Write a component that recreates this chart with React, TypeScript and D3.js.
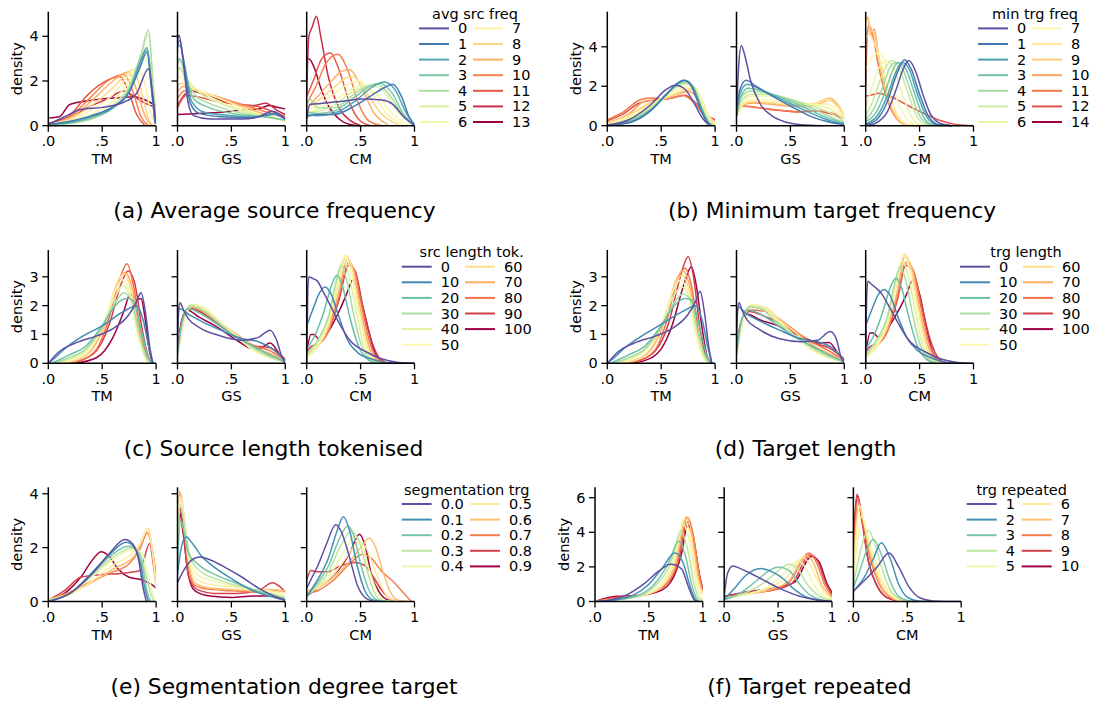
import React from 'react';
import * as d3 from 'd3';

// shared axis stuff
const metricNames = ['TM', 'GS', 'CM'];
const xTicks = [0, 0.5, 1];
const xTickLabels = ['.0', '.5', '1'];

// (a) average source frequency
const aLevels = [0, 1, 2, 3, 4, 5, 6, 7, 8, 9, 10, 11, 12, 13];
const aTM = [
  [0, 0.05, 0.15, 0.4, 0.3, 0.72, 0.5, 0.82, 0.7, 1.05, 0.82, 1.45, 0.93, 2.55, 0.97, 1.3, 1, 0.1],
  [0, 0.05, 0.2, 0.2, 0.4, 0.45, 0.6, 0.85, 0.75, 1.5, 0.85, 2.6, 0.915, 3.3, 0.96, 1.5, 0.99, 0.1],
  [0, 0.05, 0.2, 0.15, 0.4, 0.4, 0.6, 0.8, 0.75, 1.5, 0.85, 2.8, 0.915, 3.5, 0.96, 1.6, 0.99, 0.1],
  [0, 0.03, 0.2, 0.12, 0.4, 0.35, 0.6, 0.8, 0.75, 1.6, 0.85, 2.9, 0.92, 3.4, 0.965, 1.5, 0.99, 0.1],
  [0, 0.03, 0.2, 0.1, 0.4, 0.3, 0.6, 0.8, 0.75, 1.7, 0.86, 3.2, 0.93, 4.3, 0.97, 2.0, 1, 0.2],
  [0, 0.03, 0.2, 0.12, 0.4, 0.35, 0.6, 0.9, 0.75, 1.8, 0.86, 3.1, 0.93, 4.1, 0.97, 2.0, 1, 0.2],
  [0, 0.05, 0.2, 0.2, 0.4, 0.5, 0.6, 1.1, 0.75, 2.0, 0.85, 2.8, 0.91, 3.0, 0.96, 1.5, 1, 0.2],
  [0, 0.05, 0.2, 0.25, 0.4, 0.7, 0.6, 1.4, 0.72, 2.1, 0.82, 2.6, 0.89, 2.0, 0.95, 0.6, 1, 0.05],
  [0, 0.05, 0.2, 0.3, 0.4, 0.9, 0.6, 1.7, 0.7, 2.2, 0.78, 2.5, 0.86, 1.6, 0.93, 0.3, 0.98, 0],
  [0, 0.05, 0.2, 0.35, 0.4, 1.1, 0.6, 2.0, 0.74, 2.4, 0.82, 1.6, 0.9, 0.4, 0.96, 0],
  [0, 0.05, 0.2, 0.4, 0.4, 1.3, 0.55, 2.0, 0.7, 2.3, 0.78, 1.6, 0.86, 0.4, 0.93, 0],
  [0, 0.05, 0.2, 0.45, 0.35, 1.3, 0.5, 1.9, 0.66, 2.2, 0.74, 1.6, 0.82, 0.5, 0.9, 0],
  [0, 0.1, 0.2, 0.4, 0.4, 0.9, 0.55, 1.2, 0.7, 1.55, 0.8, 1.3, 0.9, 1.0, 0.98, 0.85],
  [0, 0.35, 0.1, 0.4, 0.2, 0.95, 0.35, 1.1, 0.5, 1.2, 0.65, 1.25, 0.8, 1.3, 0.9, 1.15, 1, 0.9],
];
const aGS = [
  [0, 3.8, 0.015, 4.05, 0.05, 3.0, 0.1, 1.0, 0.15, 0.45, 0.3, 0.3, 0.6, 0.3, 0.75, 0.4, 0.88, 0.65, 0.95, 0.5, 1, 0.3],
  [0, 3.6, 0.02, 3.8, 0.06, 2.8, 0.12, 1.0, 0.2, 0.55, 0.4, 0.4, 0.7, 0.35, 0.88, 0.55, 1, 0.3],
  [0, 3.5, 0.02, 3.6, 0.07, 2.6, 0.13, 1.1, 0.25, 0.6, 0.5, 0.45, 0.75, 0.4, 0.9, 0.5, 1, 0.3],
  [0, 2.8, 0.02, 3.0, 0.08, 2.2, 0.15, 1.2, 0.3, 0.8, 0.5, 0.55, 0.8, 0.4, 1, 0.25],
  [0, 2.5, 0.02, 2.6, 0.08, 2.0, 0.18, 1.3, 0.35, 0.9, 0.55, 0.6, 0.8, 0.4, 1, 0.25],
  [0, 2.8, 0.02, 2.9, 0.08, 2.2, 0.2, 1.5, 0.4, 1.0, 0.6, 0.65, 0.8, 0.45, 1, 0.25],
  [0, 2.4, 0.03, 2.5, 0.1, 1.9, 0.22, 1.5, 0.4, 1.05, 0.6, 0.7, 0.8, 0.45, 1, 0.25],
  [0, 2.1, 0.03, 2.2, 0.1, 1.8, 0.25, 1.5, 0.45, 1.1, 0.65, 0.7, 0.85, 0.4, 1, 0.2],
  [0, 1.8, 0.04, 1.9, 0.12, 1.7, 0.25, 1.5, 0.45, 1.1, 0.65, 0.7, 0.85, 0.4, 1, 0.2],
  [0, 1.5, 0.05, 1.75, 0.12, 1.65, 0.3, 1.4, 0.5, 1.05, 0.7, 0.7, 0.9, 0.35, 1, 0.2],
  [0, 1.2, 0.06, 1.55, 0.15, 1.6, 0.3, 1.4, 0.5, 1.1, 0.7, 0.8, 0.9, 0.5, 1, 0.35],
  [0, 0.8, 0.08, 1.35, 0.18, 1.3, 0.35, 1.1, 0.55, 0.95, 0.75, 0.85, 0.9, 0.6, 1, 0.4],
  [0, 0.9, 0.05, 1.3, 0.12, 1.55, 0.3, 1.3, 0.5, 1.0, 0.7, 0.9, 0.82, 1.0, 0.92, 0.7, 1, 0.5],
  [0, 0.5, 0.2, 0.55, 0.4, 0.6, 0.6, 0.7, 0.75, 0.75, 0.85, 0.9, 0.95, 0.8, 1, 0.75],
];
const aCM = [
  [0, 0.3, 0.03, 0.95, 0.15, 1.0, 0.35, 1.1, 0.5, 1.2, 0.7, 1.15, 0.8, 0.95, 0.9, 0.4, 1, 0],
  [0, 0.4, 0.1, 0.5, 0.25, 0.5, 0.45, 0.9, 0.6, 1.35, 0.72, 1.7, 0.8, 1.85, 0.88, 1.3, 0.95, 0.4, 1, 0.05],
  [0, 0.5, 0.1, 0.45, 0.25, 0.55, 0.45, 1.1, 0.6, 1.7, 0.72, 1.95, 0.82, 1.6, 0.92, 0.6, 1, 0.05],
  [0, 0.6, 0.1, 0.55, 0.25, 0.65, 0.45, 1.3, 0.58, 1.75, 0.68, 1.9, 0.8, 1.4, 0.9, 0.5, 1, 0.05],
  [0, 0.8, 0.03, 1.2, 0.1, 0.8, 0.25, 0.8, 0.45, 1.45, 0.58, 1.8, 0.65, 1.85, 0.78, 1.3, 0.9, 0.4, 1, 0.05],
  [0, 0.6, 0.1, 0.65, 0.25, 0.9, 0.42, 1.5, 0.6, 1.8, 0.72, 1.5, 0.85, 0.6, 1, 0.05],
  [0, 0.6, 0.1, 0.75, 0.25, 1.1, 0.4, 1.6, 0.52, 1.8, 0.65, 1.4, 0.8, 0.5, 0.95, 0.05],
  [0, 0.7, 0.1, 0.9, 0.25, 1.4, 0.38, 1.85, 0.48, 2.0, 0.6, 1.5, 0.75, 0.5, 0.9, 0.05],
  [0, 0.8, 0.1, 1.1, 0.25, 1.7, 0.35, 2.1, 0.43, 2.2, 0.55, 1.5, 0.7, 0.5, 0.85, 0.05],
  [0, 0.8, 0.1, 1.3, 0.25, 2.1, 0.33, 2.45, 0.4, 2.5, 0.5, 1.8, 0.62, 0.6, 0.75, 0.05],
  [0, 1.0, 0.08, 1.7, 0.18, 2.8, 0.29, 3.2, 0.38, 2.5, 0.48, 1.0, 0.58, 0.2, 0.7, 0],
  [0, 1.3, 0.06, 2.0, 0.14, 3.0, 0.22, 3.25, 0.3, 2.5, 0.4, 1.0, 0.5, 0.2, 0.6, 0],
  [0, 1.5, 0.02, 4.0, 0.05, 4.4, 0.09, 4.9, 0.13, 4.0, 0.2, 2.2, 0.3, 0.8, 0.4, 0.25, 0.5, 0],
  [0, 2.9, 0.02, 3.0, 0.07, 2.6, 0.13, 1.7, 0.2, 0.9, 0.3, 0.3, 0.4, 0.05, 0.5, 0],
];

// (b) minimum target frequency
const bLevels = [0, 1, 2, 3, 4, 5, 6, 7, 8, 9, 10, 11, 12, 14];
const bTM = [
  [0, 0.02, 0.2, 0.3, 0.4, 1.05, 0.55, 1.85, 0.63, 2.05, 0.72, 1.85, 0.8, 1.2, 0.88, 0.4, 0.95, 0],
  [0, 0.02, 0.2, 0.15, 0.4, 0.75, 0.55, 1.6, 0.65, 2.15, 0.71, 2.3, 0.78, 2.0, 0.86, 0.9, 0.92, 0.2, 0.96, 0],
  [0, 0.02, 0.2, 0.15, 0.4, 0.75, 0.55, 1.6, 0.65, 2.15, 0.72, 2.3, 0.79, 2.0, 0.87, 0.9, 0.93, 0.2, 0.97, 0],
  [0, 0.03, 0.2, 0.2, 0.4, 0.8, 0.55, 1.6, 0.65, 2.1, 0.72, 2.28, 0.8, 1.9, 0.88, 0.8, 0.94, 0.15, 0.98, 0],
  [0, 0.04, 0.2, 0.25, 0.4, 0.85, 0.55, 1.6, 0.65, 2.05, 0.73, 2.2, 0.8, 1.9, 0.88, 0.8, 0.95, 0.1, 1, 0],
  [0, 0.05, 0.2, 0.3, 0.4, 0.9, 0.55, 1.6, 0.65, 2.0, 0.74, 2.15, 0.81, 1.9, 0.89, 0.8, 0.96, 0.1, 1, 0],
  [0, 0.05, 0.2, 0.35, 0.4, 0.95, 0.55, 1.6, 0.66, 1.95, 0.75, 2.1, 0.82, 1.9, 0.9, 0.8, 0.97, 0.1, 1, 0],
  [0, 0.08, 0.2, 0.4, 0.4, 1.0, 0.55, 1.5, 0.67, 1.85, 0.76, 2.0, 0.83, 1.85, 0.9, 0.9, 0.97, 0.15, 1, 0],
  [0, 0.1, 0.2, 0.5, 0.4, 1.1, 0.55, 1.45, 0.68, 1.75, 0.78, 1.9, 0.85, 1.6, 0.92, 0.7, 1, 0.1],
  [0, 0.1, 0.2, 0.55, 0.4, 1.15, 0.55, 1.4, 0.68, 1.7, 0.78, 1.85, 0.86, 1.5, 0.93, 0.6, 1, 0.1],
  [0, 0.15, 0.2, 0.6, 0.35, 1.25, 0.5, 1.35, 0.65, 1.6, 0.75, 1.75, 0.85, 1.3, 0.93, 0.5, 1, 0.15],
  [0, 0.3, 0.15, 0.7, 0.3, 1.3, 0.4, 1.4, 0.55, 1.35, 0.7, 1.55, 0.8, 1.2, 0.9, 0.5, 1, 0.15],
  [0, 0.25, 0.15, 0.6, 0.3, 1.15, 0.45, 1.3, 0.6, 1.4, 0.72, 1.55, 0.82, 1.15, 0.92, 0.55, 1, 0.3],
  [],
];
const bGS = [
  [0, 0.5, 0.02, 3.0, 0.045, 4.05, 0.08, 3.5, 0.13, 2.3, 0.22, 1.1, 0.33, 0.5, 0.45, 0.2, 0.6, 0.05, 0.8, 0],
  [0, 0.5, 0.03, 1.8, 0.09, 2.3, 0.18, 2.0, 0.3, 1.6, 0.5, 1.0, 0.7, 0.45, 0.85, 0.2, 1, 0.05],
  [0, 0.5, 0.03, 1.6, 0.1, 2.1, 0.2, 1.9, 0.35, 1.5, 0.55, 1.0, 0.75, 0.5, 0.9, 0.2, 1, 0.1],
  [0, 0.5, 0.04, 1.5, 0.11, 1.9, 0.22, 1.8, 0.4, 1.45, 0.6, 1.0, 0.8, 0.5, 0.92, 0.25, 1, 0.1],
  [0, 0.5, 0.04, 1.4, 0.12, 1.75, 0.25, 1.7, 0.45, 1.4, 0.65, 1.0, 0.85, 0.5, 1, 0.15],
  [0, 0.5, 0.05, 1.3, 0.13, 1.6, 0.28, 1.6, 0.5, 1.35, 0.7, 1.0, 0.85, 0.7, 1, 0.2],
  [0, 0.5, 0.05, 1.25, 0.14, 1.5, 0.3, 1.5, 0.5, 1.3, 0.7, 1.05, 0.85, 0.9, 1, 0.3],
  [0, 0.5, 0.05, 1.15, 0.15, 1.35, 0.3, 1.3, 0.5, 1.15, 0.7, 1.05, 0.85, 1.1, 0.95, 0.7, 1, 0.4],
  [0, 0.5, 0.06, 1.1, 0.15, 1.25, 0.3, 1.2, 0.5, 1.1, 0.7, 1.1, 0.85, 1.3, 0.93, 1.0, 1, 0.5],
  [0, 0.5, 0.06, 1.05, 0.15, 1.2, 0.3, 1.15, 0.5, 1.05, 0.7, 1.1, 0.87, 1.4, 0.95, 1.0, 1, 0.5],
  [0, 0.6, 0.06, 1.05, 0.15, 1.15, 0.3, 1.1, 0.5, 1.0, 0.7, 1.0, 0.87, 1.3, 0.95, 0.9, 1, 0.5],
  [0, 0.8, 0.05, 1.0, 0.15, 0.95, 0.35, 0.8, 0.55, 0.72, 0.75, 0.75, 0.88, 0.65, 1, 0.4],
  [0, 0.75, 0.05, 1.0, 0.15, 0.95, 0.3, 0.85, 0.55, 0.7, 0.75, 0.75, 0.9, 0.55, 1, 0.35],
  [],
];
const bCM = [
  [0, 0, 0.1, 0.15, 0.2, 0.7, 0.28, 1.8, 0.35, 2.9, 0.4, 3.3, 0.46, 2.8, 0.53, 1.6, 0.6, 0.6, 0.7, 0.1, 0.8, 0],
  [0, 0.05, 0.1, 0.3, 0.2, 1.2, 0.28, 2.5, 0.36, 3.35, 0.42, 2.9, 0.5, 1.6, 0.58, 0.5, 0.68, 0.05, 0.8, 0],
  [0, 0.1, 0.1, 0.45, 0.2, 1.5, 0.27, 2.6, 0.34, 3.2, 0.4, 2.9, 0.48, 1.6, 0.56, 0.5, 0.66, 0.05, 0.8, 0],
  [0, 0.2, 0.1, 0.7, 0.18, 1.7, 0.25, 2.8, 0.3, 3.2, 0.37, 2.9, 0.45, 1.7, 0.53, 0.5, 0.62, 0.05, 0.75, 0],
  [0, 0.3, 0.08, 0.9, 0.16, 2.0, 0.22, 2.9, 0.28, 3.2, 0.34, 2.9, 0.42, 1.7, 0.5, 0.5, 0.6, 0.05, 0.7, 0],
  [0, 0.5, 0.07, 1.3, 0.14, 2.4, 0.2, 3.1, 0.25, 3.3, 0.31, 2.9, 0.39, 1.7, 0.47, 0.5, 0.57, 0.05, 0.7, 0],
  [0, 0.9, 0.05, 1.8, 0.12, 2.9, 0.2, 3.3, 0.26, 2.9, 0.34, 1.6, 0.42, 0.5, 0.52, 0.05, 0.65, 0],
  [0, 2.9, 0.05, 3.4, 0.12, 3.7, 0.18, 3.2, 0.25, 2.0, 0.33, 0.8, 0.42, 0.15, 0.55, 0],
  [0, 4.4, 0.03, 4.6, 0.08, 4.2, 0.15, 3.0, 0.22, 1.6, 0.3, 0.5, 0.4, 0.05, 0.5, 0],
  [0, 5.2, 0.015, 5.45, 0.05, 4.8, 0.08, 4.7, 0.13, 3.2, 0.2, 1.5, 0.28, 0.5, 0.38, 0.05, 0.5, 0],
  [0, 5.4, 0.02, 5.5, 0.05, 4.6, 0.08, 4.9, 0.12, 3.5, 0.19, 1.6, 0.27, 0.5, 0.37, 0.05, 0.5, 0],
  [0, 2.0, 0.015, 4.6, 0.03, 5.1, 0.07, 4.5, 0.12, 3.0, 0.2, 1.3, 0.28, 0.4, 0.38, 0.05, 0.5, 0],
  [0, 1.5, 0.05, 1.55, 0.12, 1.65, 0.2, 1.55, 0.3, 1.3, 0.4, 1.0, 0.55, 0.6, 0.7, 0.25, 0.85, 0.05, 1, 0],
  [],
];

// (c) source length tokenised
const cLevels = [0, 10, 20, 30, 40, 50, 60, 70, 80, 90, 100];
const cTM = [
  [0, 0, 0.1, 0.4, 0.25, 0.7, 0.45, 0.95, 0.6, 1.2, 0.75, 1.7, 0.82, 2.15, 0.86, 2.45, 0.9, 1.8, 0.94, 0.6, 0.97, 0],
  [0, 0, 0.05, 0.15, 0.15, 0.5, 0.3, 0.9, 0.5, 1.3, 0.7, 1.8, 0.82, 2.0, 0.88, 1.5, 0.93, 0.6, 0.97, 0],
  [0.03, 0, 0.2, 0.3, 0.35, 0.6, 0.5, 1.3, 0.62, 2.0, 0.72, 2.25, 0.78, 2.2, 0.86, 1.2, 0.92, 0.3, 0.96, 0],
  [0.05, 0, 0.2, 0.2, 0.35, 0.5, 0.5, 1.25, 0.62, 2.1, 0.7, 2.45, 0.77, 2.2, 0.84, 1.1, 0.9, 0.3, 0.95, 0],
  [0.05, 0, 0.2, 0.15, 0.35, 0.45, 0.5, 1.25, 0.62, 2.3, 0.69, 2.7, 0.76, 2.3, 0.83, 1.1, 0.9, 0.2, 0.95, 0],
  [0.05, 0, 0.2, 0.1, 0.35, 0.4, 0.5, 1.25, 0.62, 2.5, 0.69, 2.9, 0.76, 2.4, 0.83, 1.0, 0.9, 0.2, 0.94, 0],
  [0.08, 0, 0.25, 0.1, 0.4, 0.5, 0.52, 1.4, 0.63, 2.7, 0.7, 3.1, 0.77, 2.5, 0.84, 1.0, 0.9, 0.2, 0.94, 0],
  [0.1, 0, 0.25, 0.1, 0.4, 0.45, 0.53, 1.4, 0.64, 2.8, 0.71, 3.15, 0.78, 2.6, 0.85, 1.0, 0.91, 0.2, 0.95, 0],
  [0.12, 0, 0.3, 0.1, 0.45, 0.5, 0.55, 1.4, 0.66, 2.9, 0.73, 3.45, 0.79, 2.7, 0.86, 1.0, 0.92, 0.2, 0.96, 0],
  [0.15, 0, 0.3, 0.1, 0.45, 0.45, 0.57, 1.4, 0.67, 2.7, 0.74, 3.2, 0.8, 2.8, 0.87, 1.2, 0.93, 0.2, 0.97, 0],
  [0.25, 0, 0.45, 0.2, 0.6, 0.9, 0.7, 1.8, 0.76, 2.4, 0.82, 2.2, 0.86, 2.25, 0.9, 1.5, 0.94, 0.4, 0.97, 0],
];
const cGS = [
  [0, 0.5, 0.01, 1.8, 0.025, 2.1, 0.05, 1.9, 0.1, 1.55, 0.2, 1.25, 0.4, 0.95, 0.6, 0.8, 0.75, 0.9, 0.86, 1.15, 0.92, 0.8, 0.97, 0.2, 1, 0],
  [0, 1.6, 0.02, 1.9, 0.08, 1.75, 0.2, 1.5, 0.4, 1.15, 0.6, 0.85, 0.75, 0.75, 0.88, 0.5, 1, 0.1],
  [0, 0.3, 0.04, 1.4, 0.1, 1.9, 0.2, 1.75, 0.35, 1.4, 0.5, 1.0, 0.7, 0.6, 0.85, 0.3, 1, 0.05],
  [0, 0.3, 0.05, 1.5, 0.12, 2.0, 0.2, 1.9, 0.35, 1.5, 0.5, 1.05, 0.7, 0.55, 0.85, 0.25, 1, 0.05],
  [0, 0.3, 0.05, 1.5, 0.13, 2.05, 0.22, 1.95, 0.37, 1.5, 0.52, 1.0, 0.7, 0.5, 0.85, 0.2, 1, 0.05],
  [0, 0.3, 0.06, 1.5, 0.14, 2.05, 0.24, 1.95, 0.38, 1.5, 0.53, 1.0, 0.7, 0.45, 0.85, 0.2, 1, 0.05],
  [0, 0.3, 0.06, 1.45, 0.14, 2.0, 0.24, 1.9, 0.38, 1.45, 0.54, 1.0, 0.7, 0.5, 0.85, 0.25, 1, 0.05],
  [0, 0.3, 0.06, 1.5, 0.13, 1.95, 0.25, 1.8, 0.4, 1.4, 0.55, 1.0, 0.72, 0.55, 0.85, 0.35, 1, 0.1],
  [0, 0.4, 0.06, 1.55, 0.12, 1.95, 0.25, 1.75, 0.4, 1.35, 0.55, 0.95, 0.72, 0.6, 0.85, 0.45, 1, 0.1],
  [0, 0.4, 0.05, 1.55, 0.12, 1.9, 0.25, 1.7, 0.4, 1.3, 0.55, 0.9, 0.72, 0.6, 0.85, 0.55, 0.95, 0.3, 1, 0.15],
  [0, 0.5, 0.04, 1.5, 0.09, 1.85, 0.2, 1.6, 0.35, 1.3, 0.55, 0.8, 0.7, 0.5, 0.78, 0.55, 0.86, 0.7, 0.94, 0.35, 1, 0.1],
];
const cCM = [
  [0, 0, 0.01, 2.5, 0.02, 3.0, 0.05, 2.95, 0.1, 2.85, 0.15, 2.5, 0.22, 2.0, 0.3, 1.4, 0.4, 0.8, 0.55, 0.4, 0.7, 0.15, 0.85, 0.03, 1, 0],
  [0, 1.3, 0.05, 1.8, 0.12, 2.45, 0.17, 2.65, 0.22, 2.45, 0.3, 1.6, 0.38, 0.8, 0.48, 0.35, 0.6, 0.15, 0.75, 0.02, 1, 0],
  [0, 0.5, 0.08, 1.0, 0.16, 1.8, 0.23, 2.7, 0.28, 3.05, 0.33, 2.7, 0.4, 1.6, 0.48, 0.6, 0.56, 0.15, 0.65, 0],
  [0, 0.3, 0.1, 0.8, 0.2, 1.6, 0.27, 2.8, 0.32, 3.4, 0.37, 2.9, 0.43, 1.8, 0.5, 0.7, 0.58, 0.15, 0.68, 0],
  [0, 0.25, 0.1, 0.7, 0.2, 1.5, 0.28, 2.8, 0.34, 3.6, 0.39, 3.1, 0.46, 1.8, 0.53, 0.6, 0.6, 0.15, 0.7, 0],
  [0, 0.2, 0.1, 0.6, 0.2, 1.4, 0.29, 2.8, 0.355, 3.75, 0.41, 3.2, 0.48, 1.8, 0.55, 0.6, 0.62, 0.1, 0.7, 0],
  [0, 0.2, 0.1, 0.55, 0.2, 1.3, 0.3, 2.8, 0.365, 3.75, 0.42, 3.3, 0.49, 1.8, 0.56, 0.6, 0.63, 0.1, 0.72, 0],
  [0, 0.25, 0.1, 0.6, 0.2, 1.2, 0.3, 2.5, 0.375, 3.6, 0.43, 3.3, 0.5, 1.9, 0.57, 0.7, 0.64, 0.15, 0.72, 0],
  [0, 0.3, 0.1, 0.6, 0.2, 1.1, 0.3, 2.3, 0.385, 3.5, 0.44, 3.25, 0.51, 2.0, 0.58, 0.8, 0.65, 0.2, 0.74, 0],
  [0, 0.4, 0.05, 0.6, 0.1, 0.65, 0.2, 1.1, 0.3, 2.2, 0.39, 3.4, 0.45, 3.2, 0.52, 2.0, 0.6, 0.8, 0.67, 0.2, 0.75, 0],
  [0, 0.4, 0.04, 1.0, 0.07, 1.0, 0.12, 0.8, 0.2, 1.1, 0.3, 1.8, 0.37, 2.4, 0.43, 2.9, 0.48, 2.5, 0.55, 1.5, 0.62, 0.5, 0.7, 0.05, 0.78, 0],
];

// (d) target length
const dLevels = [0, 10, 20, 30, 40, 50, 60, 70, 80, 90, 100];
const dTM = [
  [0, 0, 0.1, 0.4, 0.25, 0.7, 0.45, 0.95, 0.6, 1.2, 0.75, 1.7, 0.82, 2.15, 0.86, 2.5, 0.9, 1.8, 0.94, 0.6, 0.97, 0],
  [0, 0, 0.05, 0.15, 0.15, 0.5, 0.3, 0.9, 0.5, 1.35, 0.7, 1.8, 0.82, 2.0, 0.88, 1.5, 0.93, 0.6, 0.97, 0],
  [0.03, 0, 0.2, 0.3, 0.35, 0.6, 0.5, 1.3, 0.62, 2.0, 0.72, 2.25, 0.78, 2.2, 0.86, 1.2, 0.92, 0.3, 0.96, 0],
  [0.05, 0, 0.2, 0.2, 0.35, 0.5, 0.5, 1.25, 0.62, 2.1, 0.7, 2.4, 0.77, 2.2, 0.84, 1.1, 0.9, 0.3, 0.95, 0],
  [0.05, 0, 0.2, 0.15, 0.35, 0.45, 0.5, 1.3, 0.61, 2.3, 0.69, 2.65, 0.76, 2.3, 0.83, 1.1, 0.9, 0.2, 0.95, 0],
  [0.05, 0, 0.2, 0.1, 0.35, 0.45, 0.5, 1.35, 0.61, 2.5, 0.68, 2.9, 0.75, 2.4, 0.82, 1.0, 0.89, 0.2, 0.94, 0],
  [0.08, 0, 0.25, 0.1, 0.4, 0.5, 0.52, 1.45, 0.62, 2.65, 0.69, 3.05, 0.76, 2.5, 0.83, 1.0, 0.9, 0.2, 0.94, 0],
  [0.1, 0, 0.25, 0.1, 0.4, 0.45, 0.53, 1.45, 0.63, 2.8, 0.7, 3.2, 0.77, 2.6, 0.84, 1.0, 0.9, 0.2, 0.95, 0],
  [0.12, 0, 0.3, 0.1, 0.45, 0.5, 0.55, 1.45, 0.65, 2.9, 0.72, 3.3, 0.78, 2.7, 0.85, 1.0, 0.91, 0.2, 0.96, 0],
  [0.15, 0, 0.3, 0.1, 0.45, 0.45, 0.57, 1.4, 0.67, 2.9, 0.75, 3.7, 0.8, 3.0, 0.86, 1.2, 0.92, 0.2, 0.96, 0],
  [0.2, 0, 0.35, 0.1, 0.5, 0.5, 0.6, 1.3, 0.7, 2.6, 0.78, 3.35, 0.83, 2.6, 0.88, 1.2, 0.93, 0.2, 0.97, 0],
];
const dGS = [
  [0, 0.5, 0.01, 1.8, 0.025, 2.1, 0.05, 1.85, 0.1, 1.5, 0.2, 1.2, 0.4, 0.85, 0.6, 0.75, 0.75, 0.8, 0.87, 1.1, 0.93, 0.8, 0.97, 0.2, 1, 0],
  [0, 1.6, 0.02, 1.95, 0.08, 1.75, 0.2, 1.5, 0.4, 1.15, 0.6, 0.85, 0.75, 0.75, 0.88, 0.55, 1, 0.1],
  [0, 0.3, 0.04, 1.4, 0.1, 1.85, 0.2, 1.75, 0.35, 1.4, 0.5, 1.0, 0.7, 0.6, 0.85, 0.3, 1, 0.05],
  [0, 0.3, 0.05, 1.5, 0.12, 1.95, 0.22, 1.9, 0.35, 1.5, 0.5, 1.05, 0.7, 0.55, 0.85, 0.25, 1, 0.05],
  [0, 0.3, 0.05, 1.5, 0.13, 2.0, 0.23, 1.95, 0.37, 1.5, 0.52, 1.0, 0.7, 0.5, 0.85, 0.2, 1, 0.05],
  [0, 0.3, 0.06, 1.5, 0.14, 2.05, 0.25, 1.95, 0.38, 1.5, 0.53, 1.0, 0.7, 0.45, 0.85, 0.2, 1, 0.05],
  [0, 0.3, 0.06, 1.45, 0.14, 2.0, 0.26, 1.95, 0.4, 1.5, 0.55, 1.05, 0.7, 0.55, 0.85, 0.25, 1, 0.05],
  [0, 0.3, 0.06, 1.5, 0.13, 1.95, 0.27, 1.85, 0.42, 1.45, 0.56, 1.05, 0.72, 0.6, 0.85, 0.35, 1, 0.1],
  [0, 0.4, 0.06, 1.5, 0.12, 1.85, 0.27, 1.8, 0.43, 1.45, 0.57, 1.05, 0.72, 0.7, 0.85, 0.45, 1, 0.1],
  [0, 0.4, 0.05, 1.45, 0.12, 1.8, 0.25, 1.65, 0.42, 1.35, 0.57, 1.0, 0.72, 0.7, 0.85, 0.55, 0.95, 0.3, 1, 0.15],
  [0, 0.5, 0.04, 1.4, 0.1, 1.7, 0.22, 1.5, 0.35, 1.35, 0.5, 1.1, 0.65, 0.85, 0.78, 0.7, 0.86, 0.72, 0.94, 0.35, 1, 0.1],
];
const dCM = [
  [0, 0, 0.01, 2.4, 0.02, 2.85, 0.05, 2.75, 0.1, 2.6, 0.15, 2.4, 0.22, 1.95, 0.3, 1.4, 0.4, 0.8, 0.55, 0.4, 0.7, 0.15, 0.85, 0.03, 1, 0],
  [0, 1.3, 0.05, 1.8, 0.12, 2.4, 0.17, 2.55, 0.22, 2.4, 0.3, 1.6, 0.38, 0.9, 0.48, 0.45, 0.6, 0.2, 0.75, 0.03, 0.9, 0],
  [0, 0.5, 0.08, 1.0, 0.16, 1.8, 0.23, 2.65, 0.28, 2.95, 0.33, 2.65, 0.4, 1.6, 0.48, 0.6, 0.56, 0.15, 0.65, 0],
  [0, 0.3, 0.1, 0.8, 0.2, 1.6, 0.27, 2.8, 0.32, 3.35, 0.37, 2.9, 0.43, 1.8, 0.5, 0.7, 0.58, 0.15, 0.68, 0],
  [0, 0.25, 0.1, 0.7, 0.2, 1.5, 0.28, 2.8, 0.34, 3.55, 0.39, 3.1, 0.46, 1.8, 0.53, 0.6, 0.6, 0.15, 0.7, 0],
  [0, 0.2, 0.1, 0.6, 0.2, 1.4, 0.29, 2.9, 0.35, 3.75, 0.41, 3.2, 0.48, 1.8, 0.55, 0.6, 0.62, 0.1, 0.7, 0],
  [0, 0.2, 0.1, 0.55, 0.2, 1.3, 0.29, 2.8, 0.355, 3.8, 0.42, 3.3, 0.49, 1.8, 0.56, 0.6, 0.63, 0.1, 0.72, 0],
  [0, 0.25, 0.1, 0.6, 0.2, 1.2, 0.3, 2.6, 0.36, 3.7, 0.43, 3.3, 0.5, 1.9, 0.57, 0.7, 0.64, 0.15, 0.72, 0],
  [0, 0.3, 0.1, 0.6, 0.2, 1.1, 0.3, 2.4, 0.37, 3.5, 0.44, 3.25, 0.51, 2.0, 0.58, 0.8, 0.65, 0.2, 0.74, 0],
  [0, 0.4, 0.05, 0.6, 0.1, 0.65, 0.2, 1.1, 0.3, 2.3, 0.37, 3.4, 0.45, 3.1, 0.52, 2.0, 0.6, 0.8, 0.67, 0.2, 0.75, 0],
  [0, 0.3, 0.04, 1.05, 0.07, 1.05, 0.12, 0.9, 0.2, 1.2, 0.3, 1.8, 0.38, 2.4, 0.44, 2.9, 0.5, 2.4, 0.56, 1.3, 0.62, 0.4, 0.7, 0],
];

// (e) segmentation degree target
const eLevels = [0.0, 0.1, 0.2, 0.3, 0.4, 0.5, 0.6, 0.7, 0.8, 0.9];
const eTM = [
  [0, 0, 0.2, 0.3, 0.4, 1.0, 0.57, 1.8, 0.71, 2.3, 0.78, 2.15, 0.84, 1.5, 0.88, 0.5, 0.91, 0],
  [0, 0, 0.2, 0.3, 0.4, 1.05, 0.57, 1.75, 0.72, 2.2, 0.8, 2.0, 0.86, 1.3, 0.9, 0.4, 0.93, 0],
  [0, 0.02, 0.2, 0.3, 0.4, 1.0, 0.58, 1.7, 0.74, 2.05, 0.82, 1.9, 0.88, 1.2, 0.92, 0.3, 0.95, 0],
  [0, 0.03, 0.2, 0.3, 0.4, 0.95, 0.6, 1.65, 0.78, 2.0, 0.85, 1.8, 0.9, 1.1, 0.95, 0.3, 0.98, 0],
  [0, 0.05, 0.2, 0.3, 0.4, 0.9, 0.6, 1.55, 0.8, 1.95, 0.87, 1.8, 0.92, 1.1, 0.97, 0.3, 1, 0.05],
  [0, 0.05, 0.2, 0.25, 0.4, 0.75, 0.6, 1.35, 0.78, 1.8, 0.86, 2.2, 0.92, 2.7, 0.96, 2.0, 1, 0.5],
  [0, 0.08, 0.2, 0.3, 0.4, 0.7, 0.6, 1.2, 0.8, 1.7, 0.87, 2.3, 0.925, 2.7, 0.97, 1.8, 1, 0.8],
  [0, 0.08, 0.2, 0.35, 0.4, 0.75, 0.6, 1.1, 0.75, 1.4, 0.85, 1.95, 0.92, 2.55, 0.97, 1.8, 1, 1.0],
  [0, 0.05, 0.15, 0.4, 0.3, 0.9, 0.5, 1.0, 0.7, 1.05, 0.85, 1.15, 0.94, 2.15, 0.98, 1.2, 1, 0.6],
  [0, 0.05, 0.15, 0.3, 0.3, 0.9, 0.42, 1.6, 0.49, 1.85, 0.56, 1.7, 0.65, 1.2, 0.75, 0.9, 0.87, 0.8, 0.95, 0.65, 1, 0.5],
];
const eGS = [
  [0, 0.7, 0.05, 1.1, 0.12, 1.5, 0.21, 1.65, 0.3, 1.55, 0.45, 1.25, 0.6, 0.9, 0.75, 0.5, 0.9, 0.2, 1, 0.05],
  [0, 1.0, 0.03, 1.9, 0.08, 2.4, 0.13, 2.2, 0.22, 1.7, 0.35, 1.25, 0.5, 0.85, 0.7, 0.4, 0.85, 0.2, 1, 0.05],
  [0, 1.5, 0.03, 3.0, 0.06, 2.6, 0.1, 1.8, 0.2, 1.35, 0.35, 1.0, 0.5, 0.75, 0.7, 0.45, 0.85, 0.25, 1, 0.1],
  [0, 2.0, 0.025, 3.6, 0.06, 3.0, 0.12, 1.6, 0.22, 1.1, 0.35, 0.85, 0.5, 0.65, 0.7, 0.45, 0.85, 0.3, 1, 0.15],
  [0, 2.3, 0.025, 3.85, 0.06, 3.1, 0.12, 1.4, 0.2, 0.95, 0.35, 0.75, 0.5, 0.6, 0.7, 0.45, 0.85, 0.35, 1, 0.2],
  [0, 2.5, 0.02, 3.9, 0.05, 3.4, 0.1, 1.6, 0.18, 0.8, 0.35, 0.6, 0.5, 0.55, 0.7, 0.45, 0.85, 0.4, 1, 0.3],
  [0, 2.7, 0.02, 4.1, 0.05, 3.5, 0.1, 1.5, 0.16, 0.7, 0.3, 0.5, 0.5, 0.45, 0.7, 0.4, 0.85, 0.45, 1, 0.4],
  [0, 2.6, 0.02, 4.0, 0.05, 3.4, 0.1, 1.4, 0.16, 0.6, 0.3, 0.45, 0.5, 0.4, 0.7, 0.35, 0.85, 0.4, 1, 0.4],
  [0, 2.3, 0.02, 3.5, 0.05, 2.8, 0.1, 1.0, 0.18, 0.45, 0.35, 0.3, 0.55, 0.3, 0.75, 0.4, 0.88, 0.7, 0.95, 0.55, 1, 0.35],
  [0, 2.0, 0.02, 3.3, 0.05, 2.6, 0.1, 1.0, 0.16, 0.4, 0.3, 0.2, 0.5, 0.15, 0.7, 0.2, 0.85, 0.2, 0.95, 0.1, 1, 0.05],
];
const eCM = [
  [0, 0.5, 0.05, 0.9, 0.1, 1.3, 0.18, 2.1, 0.27, 2.85, 0.32, 2.6, 0.4, 1.6, 0.47, 0.6, 0.54, 0.15, 0.62, 0],
  [0, 0.2, 0.1, 0.8, 0.2, 1.6, 0.28, 2.6, 0.34, 3.15, 0.4, 2.6, 0.47, 1.3, 0.54, 0.4, 0.62, 0.05, 0.7, 0],
  [0, 0.2, 0.1, 0.7, 0.2, 1.3, 0.3, 2.3, 0.38, 2.8, 0.44, 2.4, 0.5, 1.4, 0.58, 0.4, 0.66, 0.05, 0.75, 0],
  [0, 0.2, 0.1, 0.6, 0.2, 1.1, 0.32, 2.1, 0.41, 2.6, 0.48, 2.3, 0.55, 1.3, 0.62, 0.4, 0.7, 0.05, 0.8, 0],
  [0, 0.25, 0.1, 0.55, 0.25, 1.2, 0.35, 1.9, 0.44, 2.4, 0.5, 2.2, 0.57, 1.3, 0.65, 0.4, 0.72, 0.05, 0.82, 0],
  [0, 0.3, 0.1, 0.5, 0.25, 1.0, 0.38, 1.7, 0.48, 2.2, 0.55, 2.0, 0.62, 1.3, 0.7, 0.5, 0.78, 0.1, 0.88, 0],
  [0, 0.4, 0.1, 0.5, 0.25, 0.9, 0.4, 1.5, 0.5, 2.0, 0.58, 2.35, 0.64, 2.0, 0.7, 1.2, 0.77, 0.4, 0.85, 0.05, 0.95, 0],
  [0, 0.3, 0.1, 0.4, 0.25, 0.8, 0.4, 1.4, 0.52, 1.75, 0.6, 1.6, 0.7, 1.1, 0.8, 0.75, 0.88, 0.4, 0.97, 0],
  [0, 0.8, 0.04, 1.15, 0.1, 1.1, 0.2, 1.1, 0.3, 1.3, 0.45, 1.45, 0.55, 1.3, 0.62, 0.9, 0.7, 0.4, 0.78, 0.1, 0.88, 0],
  [0, 0.2, 0.1, 0.5, 0.2, 0.8, 0.3, 1.2, 0.4, 1.8, 0.49, 2.5, 0.54, 2.1, 0.6, 1.0, 0.68, 0.3, 0.76, 0.05, 0.85, 0],
];

// (f) target repeated
const fLevels = [1, 2, 3, 4, 5, 6, 7, 8, 9, 10];
const fTM = [
  [0, 0, 0.15, 0.1, 0.3, 0.4, 0.45, 1.0, 0.6, 1.8, 0.7, 2.15, 0.8, 1.9, 0.87, 0.8, 0.92, 0.1, 0.95, 0],
  [0, 0, 0.2, 0.1, 0.35, 0.35, 0.5, 1.0, 0.62, 1.9, 0.74, 2.8, 0.82, 2.2, 0.88, 0.9, 0.93, 0.1, 0.96, 0],
  [0, 0, 0.2, 0.1, 0.4, 0.35, 0.55, 1.0, 0.68, 2.2, 0.78, 3.5, 0.84, 2.6, 0.9, 0.9, 0.95, 0.1, 0.98, 0],
  [0, 0, 0.2, 0.1, 0.4, 0.3, 0.55, 0.85, 0.7, 2.2, 0.8, 4.05, 0.86, 3.0, 0.92, 1.0, 0.96, 0.2, 1, 0.05],
  [0, 0, 0.2, 0.1, 0.4, 0.3, 0.58, 0.8, 0.72, 2.2, 0.82, 4.5, 0.88, 3.3, 0.94, 1.0, 0.98, 0.3, 1, 0.1],
  [0, 0, 0.2, 0.12, 0.4, 0.3, 0.6, 0.8, 0.73, 2.2, 0.83, 4.8, 0.89, 3.5, 0.95, 1.2, 1, 0.4],
  [0, 0, 0.2, 0.15, 0.4, 0.3, 0.6, 0.75, 0.74, 2.1, 0.85, 4.9, 0.9, 3.8, 0.96, 1.3, 1, 0.5],
  [0, 0, 0.2, 0.2, 0.4, 0.3, 0.6, 0.7, 0.75, 2.0, 0.86, 4.85, 0.91, 3.9, 0.97, 1.4, 1, 0.6],
  [0, 0, 0.2, 0.25, 0.4, 0.35, 0.6, 0.7, 0.76, 2.0, 0.86, 4.6, 0.91, 3.8, 0.97, 1.5, 1, 0.7],
  [0, 0, 0.2, 0.3, 0.4, 0.35, 0.6, 0.6, 0.72, 1.3, 0.8, 2.7, 0.86, 4.4, 0.91, 3.7, 0.97, 1.5, 1, 0.7],
];
const fGS = [
  [0, 0.3, 0.03, 1.6, 0.08, 2.05, 0.15, 1.9, 0.3, 1.45, 0.5, 0.8, 0.7, 0.3, 0.85, 0.1, 1, 0],
  [0, 0.1, 0.1, 0.8, 0.2, 1.5, 0.34, 1.9, 0.45, 1.7, 0.55, 1.3, 0.65, 0.7, 0.75, 0.3, 0.9, 0.05, 1, 0],
  [0, 0.1, 0.15, 0.5, 0.3, 1.2, 0.42, 1.8, 0.5, 2.0, 0.6, 1.8, 0.7, 1.0, 0.8, 0.35, 0.9, 0.1, 1, 0],
  [0, 0.1, 0.15, 0.4, 0.3, 0.8, 0.45, 1.5, 0.6, 2.15, 0.68, 1.9, 0.77, 1.0, 0.87, 0.35, 1, 0.05],
  [0, 0.15, 0.2, 0.4, 0.4, 0.85, 0.55, 1.6, 0.68, 2.35, 0.75, 2.0, 0.83, 1.0, 0.92, 0.3, 1, 0.1],
  [0, 0.2, 0.2, 0.4, 0.4, 0.75, 0.58, 1.4, 0.73, 2.55, 0.8, 2.1, 0.88, 1.0, 0.95, 0.35, 1, 0.15],
  [0, 0.2, 0.2, 0.4, 0.4, 0.65, 0.6, 1.2, 0.76, 2.65, 0.83, 2.2, 0.9, 1.0, 0.97, 0.4, 1, 0.2],
  [0, 0.2, 0.2, 0.45, 0.4, 0.6, 0.6, 1.1, 0.79, 2.8, 0.86, 2.2, 0.93, 1.0, 1, 0.3],
  [0, 0.25, 0.2, 0.5, 0.4, 0.6, 0.62, 1.0, 0.8, 2.7, 0.87, 2.3, 0.94, 1.1, 1, 0.4],
  [0, 0.3, 0.2, 0.55, 0.45, 0.75, 0.65, 1.1, 0.81, 2.6, 0.88, 2.3, 0.95, 1.1, 1, 0.5],
];
const fCM = [
  [0, 0.6, 0.1, 1.2, 0.22, 2.0, 0.33, 2.8, 0.42, 2.0, 0.52, 0.8, 0.62, 0.2, 0.75, 0.02, 1, 0],
  [0, 0.6, 0.1, 1.4, 0.18, 2.4, 0.26, 3.4, 0.34, 2.5, 0.42, 1.0, 0.5, 0.25, 0.62, 0.02, 0.8, 0],
  [0, 0.8, 0.06, 1.8, 0.12, 2.9, 0.185, 3.6, 0.26, 2.7, 0.34, 1.2, 0.42, 0.3, 0.55, 0.02, 0.7, 0],
  [0, 1.0, 0.04, 2.2, 0.09, 3.5, 0.14, 4.1, 0.2, 3.3, 0.28, 1.6, 0.36, 0.5, 0.48, 0.05, 0.6, 0],
  [0, 1.2, 0.03, 3.0, 0.08, 5.0, 0.13, 3.9, 0.2, 2.4, 0.28, 1.1, 0.38, 0.3, 0.5, 0.02, 0.6, 0],
  [0, 1.3, 0.025, 3.8, 0.06, 5.5, 0.1, 4.5, 0.18, 2.5, 0.26, 1.1, 0.36, 0.3, 0.48, 0.02, 0.6, 0],
  [0, 1.4, 0.02, 4.0, 0.05, 5.6, 0.09, 4.8, 0.16, 2.7, 0.25, 1.0, 0.35, 0.25, 0.46, 0.02, 0.6, 0],
  [0, 1.5, 0.02, 4.5, 0.04, 5.9, 0.08, 4.9, 0.15, 2.6, 0.24, 1.0, 0.34, 0.25, 0.45, 0.02, 0.6, 0],
  [0, 1.6, 0.015, 5.0, 0.035, 6.2, 0.07, 5.0, 0.14, 2.3, 0.22, 0.9, 0.32, 0.2, 0.45, 0.02, 0.6, 0],
  [0, 1.5, 0.015, 4.8, 0.04, 6.1, 0.075, 5.0, 0.14, 2.3, 0.22, 0.9, 0.32, 0.2, 0.45, 0.02, 0.6, 0],
];

// layout of the six sub-figures (pixel positions measured off the page)
const W = 107.8;
const STEP = 129.2;
const panels = [
  { id: 'a', caption: '(a) Average source frequency', capX: 274.5, title: 'avg src freq', levels: aLevels, labels: aLevels.map(String), curves: [aTM, aGS, aCM], yMax: 5.1, yTicks: [0, 2, 4], x0: 48.3, top: 11.7, bottom: 125.7, legX: 419, legCol: 54, titleX: 475 },
  { id: 'b', caption: '(b) Minimum target frequency', capX: 832, title: 'min trg freq', levels: bLevels, labels: bLevels.map(String), curves: [bTM, bGS, bCM], yMax: 5.78, yTicks: [0, 2, 4], x0: 607.3, top: 11.7, bottom: 125.7, legX: 978, legCol: 54, titleX: 1035 },
  { id: 'c', caption: '(c) Source length tokenised', capX: 273.5, title: 'src length tok.', levels: cLevels, labels: cLevels.map(String), curves: [cTM, cGS, cCM], yMax: 3.93, yTicks: [0, 1, 2, 3], x0: 48.3, top: 250, bottom: 363.3, legX: 401.7, legCol: 63.3, titleX: 471.7 },
  { id: 'd', caption: '(d) Target length', capX: 805.5, title: 'trg length', levels: dLevels, labels: dLevels.map(String), curves: [dTM, dGS, dCM], yMax: 3.93, yTicks: [0, 1, 2, 3], x0: 607.3, top: 250, bottom: 363.3, legX: 960, legCol: 63, titleX: 1026 },
  { id: 'e', caption: '(e) Segmentation degree target', capX: 284, title: 'segmentation trg', levels: eLevels, labels: eLevels.map(v => v.toFixed(1)), curves: [eTM, eGS, eCM], yMax: 4.24, yTicks: [0, 2, 4], x0: 48.3, top: 487.3, bottom: 601.5, legX: 401.7, legCol: 68.3, titleX: 466.7 },
  { id: 'f', caption: '(f) Target repeated', capX: 809.5, title: 'trg repeated', levels: fLevels, labels: fLevels.map(String), curves: [fTM, fGS, fCM], yMax: 6.6, yTicks: [0, 2, 4, 6], x0: 595, top: 487.3, bottom: 601.5, legX: 966.7, legCol: 55, titleX: 1021.7 },
];

const toPairs = (flat: number[]) => d3.range(0, flat.length, 2).map(i => [flat[i], flat[i + 1]] as [number, number]);

const FONT = 14.5;
const INK = '#000';

function Panel({ p }: { p: any }) {
  const y = d3.scaleLinear().domain([0, p.yMax]).range([p.bottom, p.top]);
  const [lo, hi] = d3.extent(p.levels as number[]) as [number, number];
  const color = (v: number) => d3.interpolateSpectral(1 - (v - lo) / (hi - lo));
  const perCol = Math.ceil(p.levels.length / 2);
  const rowY = (i: number) => p.top + 16.7 + i * 15.6;

  return (
    <g>
      {metricNames.map((m, mi) => {
        const left = p.x0 + mi * STEP;
        const x = d3.scaleLinear().domain([0, 1]).range([left, left + W]);
        const line = d3
          .line<[number, number]>()
          .x(d => x(d[0]))
          .y(d => y(d[1]))
          .curve(d3.curveMonotoneX);
        const clipId = `clip-${p.id}-${m}`;
        // first level ends up on top, like seaborn does it
        const order = p.curves[mi].map((c: number[], i: number) => ({ c, i })).reverse();
        return (
          <g key={m}>
            <clipPath id={clipId}>
              <rect x={left} y={p.top} width={W} height={p.bottom - p.top + 1} />
            </clipPath>
            <g clipPath={`url(#${clipId})`}>
              {order.map(({ c, i }: any) =>
                c.length ? (
                  <path key={i} d={line(toPairs(c)) || ''} fill="none" stroke={color(p.levels[i])} strokeWidth={1.5} />
                ) : null
              )}
            </g>
            {/* spines */}
            <line x1={left} x2={left} y1={p.top} y2={p.bottom} stroke={INK} strokeWidth={1.5} />
            <line x1={left} x2={left + W} y1={p.bottom} y2={p.bottom} stroke={INK} strokeWidth={1.5} />
            {p.yTicks.map((t: number) => (
              <g key={t}>
                <line x1={left - 6} x2={left} y1={y(t)} y2={y(t)} stroke={INK} strokeWidth={1.3} />
                {mi === 0 && (
                  <text x={left - 9.5} y={y(t)} dy="0.35em" textAnchor="end" fontSize={FONT}>
                    {t}
                  </text>
                )}
              </g>
            ))}
            {xTicks.map((t, ti) => (
              <g key={t}>
                <line x1={x(t)} x2={x(t)} y1={p.bottom} y2={p.bottom + 6} stroke={INK} strokeWidth={1.3} />
                <text x={x(t)} y={p.bottom + 15.5} dy="0.35em" textAnchor="middle" fontSize={FONT}>
                  {xTickLabels[ti]}
                </text>
              </g>
            ))}
            <text x={left + W / 2} y={p.bottom + 33} dy="0.35em" textAnchor="middle" fontSize={FONT}>
              {m}
            </text>
          </g>
        );
      })}
      <text
        transform={`translate(${p.x0 - 31},${(p.top + p.bottom) / 2}) rotate(-90)`}
        dy="0.35em"
        textAnchor="middle"
        fontSize={FONT}
      >
        density
      </text>
      {/* legend */}
      <text x={p.titleX} y={rowY(0) - 14.5} dy="0.35em" textAnchor="middle" fontSize={FONT}>
        {p.title}
      </text>
      {p.levels.map((v: number, i: number) => {
        const col = Math.floor(i / perCol);
        const row = i % perCol;
        const lx = p.legX + col * p.legCol;
        const ly = rowY(row);
        return (
          <g key={v}>
            <line x1={lx} x2={lx + 30} y1={ly} y2={ly} stroke={color(v)} strokeWidth={2} />
            <text x={lx + 39} y={ly} dy="0.35em" fontSize={FONT}>
              {p.labels[i]}
            </text>
          </g>
        );
      })}
      <text x={p.capX} y={p.bottom + 85} dy="0.35em" textAnchor="middle" fontSize={21.8}>
        {p.caption}
      </text>
    </g>
  );
}

export default function App() {
  return (
    <svg
      width={1094}
      height={703}
      style={{ position: 'absolute', left: 0, top: 0, background: '#fff' }}
      fontFamily="'DejaVu Sans', sans-serif"
      fill={INK}
    >
      {panels.map(p => (
        <Panel key={p.id} p={p} />
      ))}
    </svg>
  );
}
